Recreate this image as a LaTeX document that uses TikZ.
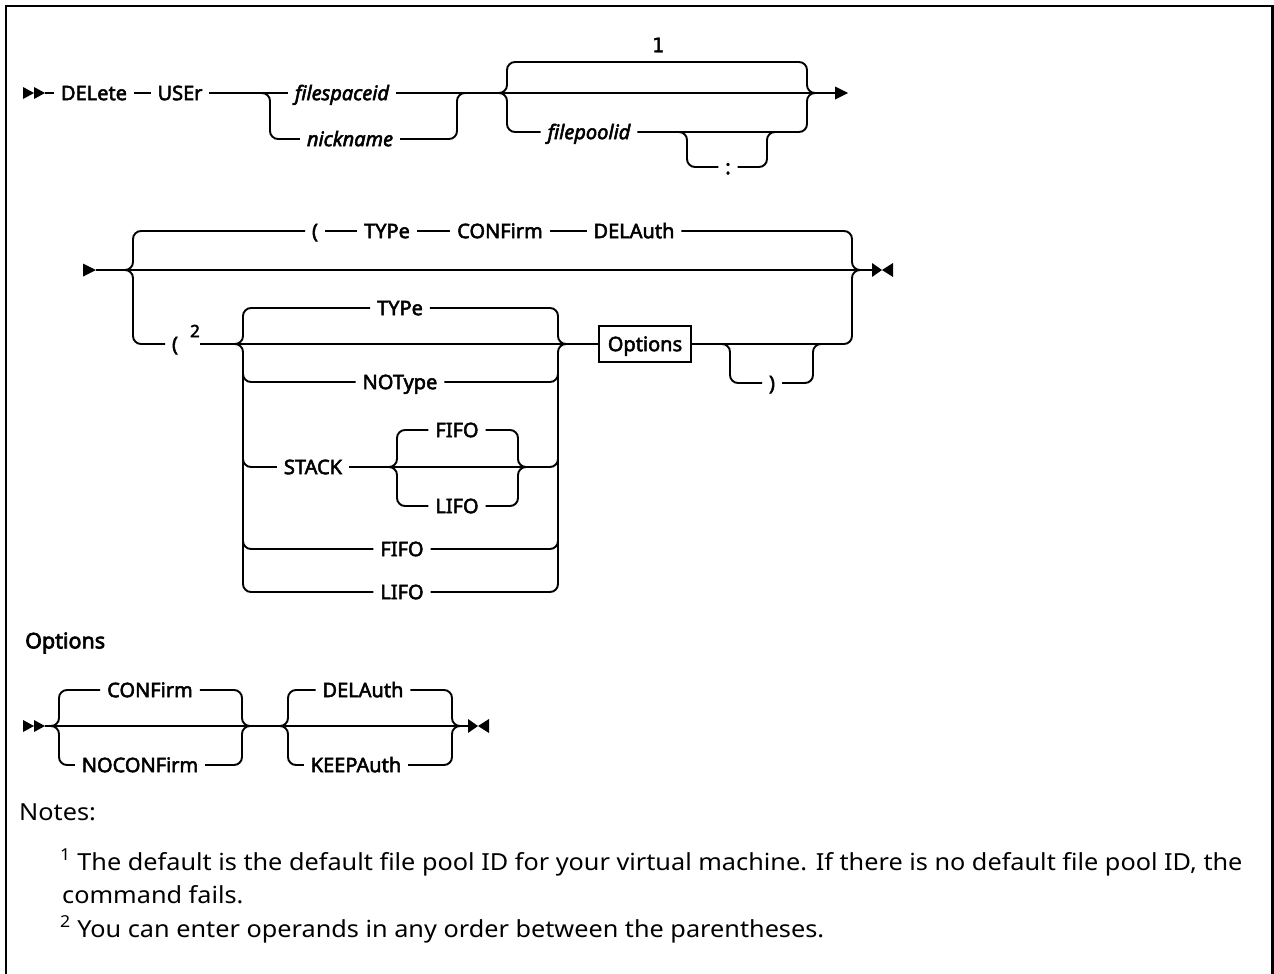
\documentclass[tikz,border=0pt]{standalone}
\usepackage{fontspec}
\setmainfont{Noto Sans}
\newfontfamily\labfont{Noto Sans}[FakeBold=2.6]
\newfontfamily\headfont{Noto Sans}[FakeBold=3.2]
\newfontfamily\notesfont{Noto Sans}[FakeStretch=1.075]
\newfontfamily\monofnt{DejaVu Sans Mono}[FakeBold=1.5]
\begin{document}
\begin{tikzpicture}[x=1pt,y=-1pt,
  rail/.style={line width=1.9pt, rounded corners=8pt},
  lab/.style={inner xsep=0pt, inner ysep=0pt, outer xsep=7pt, outer ysep=0pt,
    text height=14.3pt, text depth=0pt, font=\labfont\fontsize{20}{24}\selectfont},
  ital/.style={lab, font=\labfont\itshape\fontsize{20}{24}\selectfont},
  notefont/.style={inner sep=0pt, font=\notesfont\fontsize{23.5}{28}\selectfont},
  tip/.style={fill=black}]
\useasboundingbox (0,0) rectangle (1274,974);
% frame (open at the bottom)
\draw[line width=2.5pt] (6,974) -- (6,6) -- (1272.7,6) -- (1272.7,974);

% ---------------- Row 1 ----------------
\fill[tip] (23,87) -- (34,93) -- (23,99) -- cycle;
\fill[tip] (34,87) -- (45,93) -- (34,99) -- cycle;
\coordinate (s1) at (45,93);
\coordinate (e1) at (835,93);
\node[lab] (del) at (94,93) {DELete};
\node[lab] (user) at (180,93) {USEr};
\node[ital] (fsid) at (342,93) {filespaceid};
\node[ital] (nick) at (350,139) {nickname};
\node[ital] (fpid) at (589,132) {filepoolid};
\node[lab] (colon) at (728,167) {:};
\node[inner sep=0pt, font=\monofnt\fontsize{20}{24}\selectfont] (one) at (658,45) {1};
\draw[rail] (s1) -- (del) -- (user) -- (fsid);
\draw[rail] (fsid) -- (e1);
\draw[rail] (262,93) -- (270,93) -- (270,139) -- (nick.west);
\draw[rail] (nick.east) -- (457,139) -- (457,93) -- (465,93);
\draw[rail] (500,93) -- (507,93) -- (507,62) -- (807,62) -- (807,93) -- (813,93);
\draw[rail] (500,93) -- (507,93) -- (507,132) -- (fpid.west);
\draw[rail] (fpid.east) -- (807,132) -- (807,93) -- (813,93);
\draw[rail] (680,132) -- (687,132) -- (687,167) -- (colon.west);
\draw[rail] (colon.east) -- (767,167) -- (767,132) -- (774,132);
\fill[tip] (e1) ++(0,-6.5) -- ++(13,6.5) -- ++(-13,6.5) -- cycle;

% ---------------- Row 2 ----------------
\fill[tip] (83,263.5) -- (96,270) -- (83,276.5) -- cycle;
\coordinate (s2) at (96,270);
\coordinate (e2) at (872,270);
\draw[rail] (s2) -- (e2);
\fill[tip] (872,263) -- (882,270) -- (872,277) -- cycle;
\fill[tip] (893,263) -- (882,270) -- (893,277) -- cycle;

\node[lab] (lp1) at (315,231) {(};
\node[lab] (typ1) at (387,231) {TYPe};
\node[lab] (conf1) at (500,231) {CONFirm};
\node[lab] (dela1) at (634,231) {DELAuth};
\draw[rail] (127,270) -- (133,270) -- (133,231) -- (lp1.west);
\draw[rail] (lp1) -- (typ1) -- (conf1) -- (dela1);
\draw[rail] (dela1.east) -- (852,231) -- (852,270) -- (860,270);

\node[lab] (lp2) at (175,344) {(};
\node[inner sep=0pt, font=\labfont\fontsize{17}{19}\selectfont] (sup2) at (195,331) {2};
\draw[rail] (127,270) -- (133,270) -- (133,344) -- (lp2.west);

\node[lab] (typ2) at (400,308) {TYPe};
\node[lab] (noty) at (400,382) {NOType};
\node[lab] (stack) at (313,467) {STACK};
\node[lab] (fifo1) at (457,430) {FIFO};
\node[lab] (lifo1) at (457,506) {LIFO};
\node[lab] (fifo2) at (402,549) {FIFO};
\node[lab] (lifo2) at (402,592) {LIFO};
\node[lab, draw, line width=1.9pt, inner xsep=9pt, inner ysep=11pt, outer xsep=0pt] (opt) at (645,344) {Options};
\node[lab] (rp) at (772,383) {)};

\draw[rail] (sup2.east |- lp2) -- (opt.west);
% inner group left side
\draw[rail] (237,344) -- (243,344) -- (243,308) -- (typ2.west);
\draw[rail] (237,344) -- (243,344) -- (243,592) -- (lifo2.west);
\draw[rail] (243,370) -- (243,382) -- (noty.west);
\draw[rail] (243,450) -- (243,467) -- (stack.west);
\draw[rail] (243,530) -- (243,549) -- (fifo2.west);
% inner group right side
\draw[rail] (typ2.east) -- (558,308) -- (558,344) -- (566,344);
\draw[rail] (lifo2.east) -- (558,592) -- (558,344) -- (566,344);
\draw[rail] (noty.east) -- (558,382) -- (558,370);
\draw[rail] (stack.east) -- (558,467) -- (558,450);
\draw[rail] (fifo2.east) -- (558,549) -- (558,530);
% STACK sub group
\draw[rail] (390,467) -- (397,467) -- (397,430) -- (fifo1.west);
\draw[rail] (fifo1.east) -- (518,430) -- (518,467) -- (525,467);
\draw[rail] (390,467) -- (397,467) -- (397,506) -- (lifo1.west);
\draw[rail] (lifo1.east) -- (518,506) -- (518,467) -- (525,467);
% after Options
\draw[rail] (opt.east) -- (852,344) -- (852,270) -- (860,270);
\draw[rail] (723,344) -- (730,344) -- (730,383) -- (rp.west);
\draw[rail] (rp.east) -- (813,383) -- (813,344) -- (820,344);

% ---------------- Options fragment ----------------
\node[anchor=west, inner sep=0pt, font=\headfont\fontsize{21.5}{25}\selectfont] (opthead) at (25,643) {Options};
\fill[tip] (23,720) -- (34,726) -- (23,732) -- cycle;
\fill[tip] (34,720) -- (45,726) -- (34,732) -- cycle;
\coordinate (s3) at (45,726);
\coordinate (e3) at (468,726);
\draw[rail] (s3) -- (e3);
\fill[tip] (468,719) -- (478,726) -- (468,733) -- cycle;
\fill[tip] (489,719) -- (478,726) -- (489,733) -- cycle;
\node[lab] (conf2) at (150,690) {CONFirm};
\node[lab] (noconf) at (140,765) {NOCONFirm};
\node[lab] (dela2) at (363,690) {DELAuth};
\node[lab] (keep) at (356,765) {KEEPAuth};
\draw[rail] (53,726) -- (59,726) -- (59,690) -- (conf2.west);
\draw[rail] (conf2.east) -- (242,690) -- (242,726) -- (248,726);
\draw[rail] (53,726) -- (59,726) -- (59,765) -- (noconf.west);
\draw[rail] (noconf.east) -- (242,765) -- (242,726) -- (248,726);
\draw[rail] (281,726) -- (288,726) -- (288,690) -- (dela2.west);
\draw[rail] (dela2.east) -- (452,690) -- (452,726) -- (458,726);
\draw[rail] (281,726) -- (288,726) -- (288,765) -- (keep.west);
\draw[rail] (keep.east) -- (452,765) -- (452,726) -- (458,726);

% ---------------- Notes ----------------
\node[notefont, anchor=base west] (notes) at (19,820) {Notes:};
\node[notefont, anchor=base west] (n1) at (60,870) {\textsuperscript{1} The default is the default file pool ID for your virtual machine. If there is no default file pool ID, the};
\node[notefont, anchor=base west] (n1b) at (62,903) {command fails.};
\node[notefont, anchor=base west] (n2) at (60,937) {\textsuperscript{2} You can enter operands in any order between the parentheses.};
\end{tikzpicture}
\end{document}
